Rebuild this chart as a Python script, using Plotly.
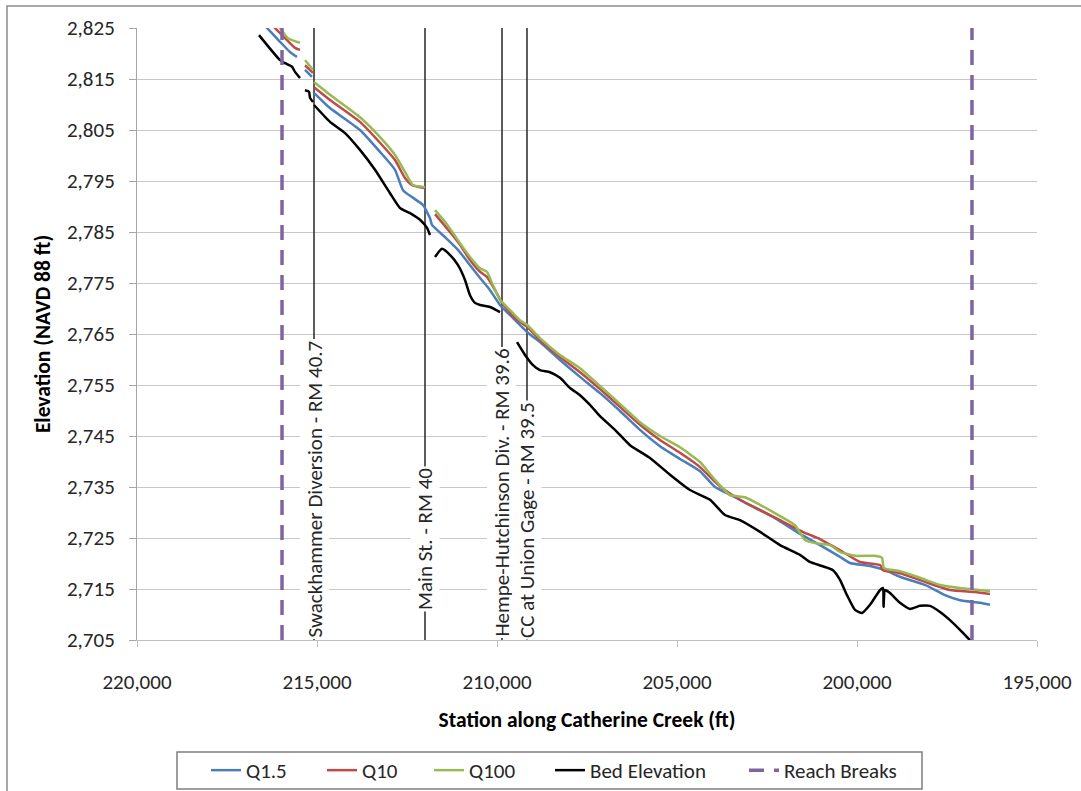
import plotly.graph_objects as go

# Water-surface profiles along Catherine Creek (station in ft, elevation in ft NAVD 88).
# None separates reaches where the profile is not continuous.
q15_station = [216528, 216389, 216028, 215750, 215556, None,
               215333, 215139, None,
               215083, 214639, 213806, 213250, 212833, 212611, 212333, 212056, 211861,
               211806, 211444, 211083, 210750, 210472, 210194, 209917, 209639, 209167,
               208806, 208250, 207694, 207139, 206583, 206028, 205472, 204917, 204361,
               203944, 203389, 202833, 202278, 201583, 201028, 200472, 200194, 199639,
               199222, 198806, 198111, 197556, 197139, 196583, 196306]
q15_elev = [2826.0, 2825.0, 2822.3, 2820.3, 2819.3, None,
            2816.8, 2815.4, None,
            2812.3, 2809.3, 2805.0, 2800.7, 2797.2, 2793.2, 2791.7, 2790.3, 2787.7,
            2786.4, 2784.0, 2781.5, 2778.5, 2776.0, 2773.6, 2770.7, 2768.7, 2765.4,
            2763.4, 2759.9, 2756.6, 2753.4, 2749.9, 2746.2, 2743.0, 2740.5, 2738.1,
            2735.0, 2733.0, 2730.9, 2728.9, 2725.8, 2723.6, 2721.3, 2720.1, 2719.5,
            2718.7, 2717.4, 2715.8, 2713.8, 2712.8, 2712.3, 2711.9]

q10_station = [216306, 216167, 215889, 215611, 215472, None,
               215333, 215111, None,
               215083, 214639, 213806, 213250, 212833, 212556, 212361, 212000, None,
               211722, 211306, 211028, 210750, 210472, 210278, 210056, 209861, 209500,
               209167, 208806, 208250, 207694, 207139, 206583, 206028, 205472, 204917,
               204361, 203944, 203750, 203250, 202694, 202139, 201444, 201028, 200472,
               199917, 199361, 199278, 198806, 198111, 197417, 196722, 196306]
q10_elev = [2826.0, 2825.0, 2823.0, 2821.1, 2820.7, None,
            2817.7, 2816.2, None,
            2813.4, 2810.9, 2806.6, 2802.5, 2799.1, 2795.6, 2794.2, 2793.6, None,
            2788.5, 2785.0, 2782.5, 2779.5, 2777.2, 2776.2, 2773.6, 2771.1, 2768.1,
            2766.4, 2763.8, 2760.5, 2757.5, 2754.2, 2750.7, 2747.2, 2744.2, 2741.7,
            2738.9, 2736.0, 2734.8, 2732.5, 2730.5, 2728.5, 2726.0, 2724.8, 2722.6,
            2720.3, 2719.7, 2718.7, 2718.1, 2716.4, 2714.8, 2714.4, 2714.0]

q100_station = [216139, 216028, 215806, 215472, None,
                215333, 215111, None,
                215083, 214639, 213806, 213250, 212833, 212556, 212333, 212000, None,
                211722, 211444, 211222, 211028, 210750, 210472, 210278, 210139, 209917,
                209639, 209361, 209167, 208806, 208250, 207694, 207139, 206583, 206028,
                205472, 204917, 204361, 203944, 203528, 203111, 202694, 202139, 201722,
                201444, 201167, 200750, 200472, 200056, 199500, 199306, 199250, 198806,
                198250, 197694, 197139, 196306]
q100_elev = [2826.0, 2825.0, 2823.0, 2822.1, None,
             2818.7, 2816.8, None,
             2814.4, 2811.9, 2807.5, 2803.6, 2800.1, 2796.8, 2794.2, 2793.8, None,
             2789.3, 2787.0, 2784.8, 2782.8, 2780.1, 2777.9, 2777.2, 2775.0, 2771.7,
             2769.7, 2767.7, 2766.8, 2764.2, 2760.9, 2758.3, 2754.8, 2751.3, 2747.7,
             2745.0, 2742.8, 2739.9, 2736.4, 2733.4, 2733.0, 2731.5, 2729.3, 2727.5,
             2724.6, 2724.0, 2723.6, 2722.3, 2721.5, 2721.5, 2721.1, 2719.1, 2718.5,
             2717.2, 2715.8, 2715.2, 2714.6]

bed_station = [216611, 216028, 215889, 215694, 215611, 215472, None,
               215333, 215222, 215194, 215111, None,
               215083, 214639, 214222, 213806, 213389, 212972, 212694, 212417, 212139,
               211944, 211861, None,
               211722, 211528, 211306, 211083, 210889, 210750, 210611, 210472, 210194,
               209917, None,
               209444, 209222, 209000, 208806, 208528, 208250, 207972, 207694, 207417,
               207139, 206722, 206306, 205750, 205194, 204639, 204083, 203667, 203250,
               202694, 202139, 201583, 201306, 200972, 200667, 200472, 200278, 200056,
               199861, 199639, 199361, 199278, 199264, 199222, 199083, 198806, 198528,
               198250, 197972, 197694, 197417, 197139, 196861, 196722]
bed_elev = [2823.6, 2818.7, 2818.1, 2817.4, 2816.4, 2815.2, None,
            2812.8, 2812.5, 2811.3, 2810.5, None,
            2809.9, 2806.6, 2804.4, 2801.1, 2797.2, 2792.6, 2789.7, 2788.7, 2787.4,
            2785.8, 2784.4, None,
            2780.1, 2781.7, 2780.5, 2778.5, 2775.6, 2772.6, 2771.1, 2770.7, 2770.3,
            2769.3, None,
            2763.4, 2760.9, 2758.9, 2757.9, 2757.5, 2756.4, 2754.4, 2753.0, 2751.1,
            2748.9, 2746.2, 2743.2, 2740.7, 2737.4, 2734.4, 2732.5, 2729.5, 2728.5,
            2726.2, 2723.6, 2721.7, 2720.3, 2719.5, 2718.7, 2716.8, 2713.8, 2710.9,
            2710.3, 2711.9, 2714.8, 2715.2, 2711.5, 2714.8, 2714.2, 2712.3, 2711.1,
            2711.7, 2711.7, 2710.5, 2708.9, 2707.0, 2705.0, 2704.6]

# Reach break stations
reach_breaks = [215972, 196806]

# Landmarks: station and label, with the elevation where each label ends
landmark_station = [215083, 212000, 209861, 209167]
landmark_label = ["Swackhammer Diversion - RM 40.7", "Main St. - RM 40",
                  "Hempe-Hutchinson Div. - RM 39.6", "CC at Union Gage - RM 39.5"]
landmark_label_base = [2705.0, 2710.5, 2705.3, 2705.0]

y_min, y_max = 2705, 2825
x_left, x_right = 220000, 195000

FONT = "Carlito, Calibri, Lato, sans-serif"
TXT = "#262626"

W, H = 1081, 791
ML, MR, MT, MB = 137, 44, 28, 151
pw, ph = W - ML - MR, H - MT - MB


def px_x(p):
    """Pixel column -> paper x."""
    return (p - ML) / pw


def px_y(p):
    """Pixel row -> paper y."""
    return (H - MB - p) / ph


fig = go.Figure()

# Landmark vertical lines
for st in landmark_station:
    fig.add_trace(go.Scatter(x=[st, st], y=[y_min, y_max], mode="lines",
                             line=dict(color="#262626", width=1.5),
                             showlegend=False, hoverinfo="skip"))

series = [
    ("Q1.5", q15_station, q15_elev, "#4a7ebb", "legend"),
    ("Q10", q10_station, q10_elev, "#be4b48", "legend2"),
    ("Q100", q100_station, q100_elev, "#98b954", "legend3"),
    ("Bed Elevation", bed_station, bed_elev, "#000000", "legend4"),
]
for name, xs, ys, col, lg in series:
    fig.add_trace(go.Scatter(x=xs, y=ys, name=name, mode="lines", legend=lg,
                             line=dict(color=col, width=2.5, shape="spline", smoothing=0.5),
                             connectgaps=False))

rb_x, rb_y = [], []
for st in reach_breaks:
    rb_x += [st, st, None]
    rb_y += [y_min, y_max, None]
fig.add_trace(go.Scatter(x=rb_x, y=rb_y, name="Reach Breaks", mode="lines", legend="legend5",
                         line=dict(color="#8064a2", width=3.5, dash="15px,10px"),
                         connectgaps=False))

for st, lab, base in zip(landmark_station, landmark_label, landmark_label_base):
    fig.add_annotation(x=st, y=base, xref="x", yref="y", text=lab, textangle=-90,
                       showarrow=False, yanchor="bottom", xanchor="center",
                       bgcolor="white", borderpad=1,
                       font=dict(family=FONT, size=21, color=TXT))

# Outer chart frame and legend frame
fig.add_shape(type="rect", xref="paper", yref="paper",
              x0=px_x(7), x1=px_x(1090), y0=px_y(800), y1=px_y(6),
              line=dict(color="#8c8c8c", width=1.5), layer="below")
fig.add_shape(type="rect", xref="paper", yref="paper",
              x0=px_x(177), x1=px_x(922), y0=px_y(789), y1=px_y(752),
              line=dict(color="#7f7f7f", width=1.5), layer="below")

# One legend entry per legend so each entry sits at its own place in the frame
entry_text_left = [245, 361, 468, 589, 783]
legend_common = dict(orientation="h", xanchor="left", yanchor="middle",
                     bgcolor="rgba(0,0,0,0)", borderwidth=0,
                     font=dict(family=FONT, size=21, color=TXT))
legends = {}
for i, tx in enumerate(entry_text_left):
    key = "legend" if i == 0 else f"legend{i + 1}"
    legends[key] = dict(legend_common, x=px_x(tx - 39), y=px_y(770.5))

fig.update_layout(
    width=W, height=H,
    margin=dict(l=ML, r=MR, t=MT, b=MB, autoexpand=False),
    paper_bgcolor="white", plot_bgcolor="white",
    font=dict(family=FONT, size=21, color=TXT),
    showlegend=True,
    **legends,
    xaxis=dict(range=[x_left, x_right], dtick=5000, tick0=0, tickformat=",d",
               automargin=False,
               showgrid=False, zeroline=False,
               showline=True, linecolor="#bfbfbf", linewidth=1,
               ticks="outside", ticklen=6, tickcolor="#bfbfbf",
               ticklabelstandoff=17,
               tickfont=dict(family=FONT, size=21, color=TXT),
               title=dict(text="<b>Station along Catherine Creek (ft)</b>",
                          font=dict(family=FONT, size=21.5, color="#000000"), standoff=17)),
    yaxis=dict(range=[y_min, y_max], dtick=10, tick0=y_min, tickformat=",d",
               automargin=False,
               showgrid=True, gridcolor="#c8c8c8", gridwidth=1, zeroline=False,
               showline=True, linecolor="#a6a6a6", linewidth=1,
               ticks="outside", ticklen=7, tickcolor="#a6a6a6",
               ticklabelstandoff=10,
               tickfont=dict(family=FONT, size=21, color=TXT),
               title=dict(text="<b>Elevation (NAVD 88 ft)</b>",
                          font=dict(family=FONT, size=21.5, color="#000000"), standoff=10)),
)

fig.write_html("out.html")
